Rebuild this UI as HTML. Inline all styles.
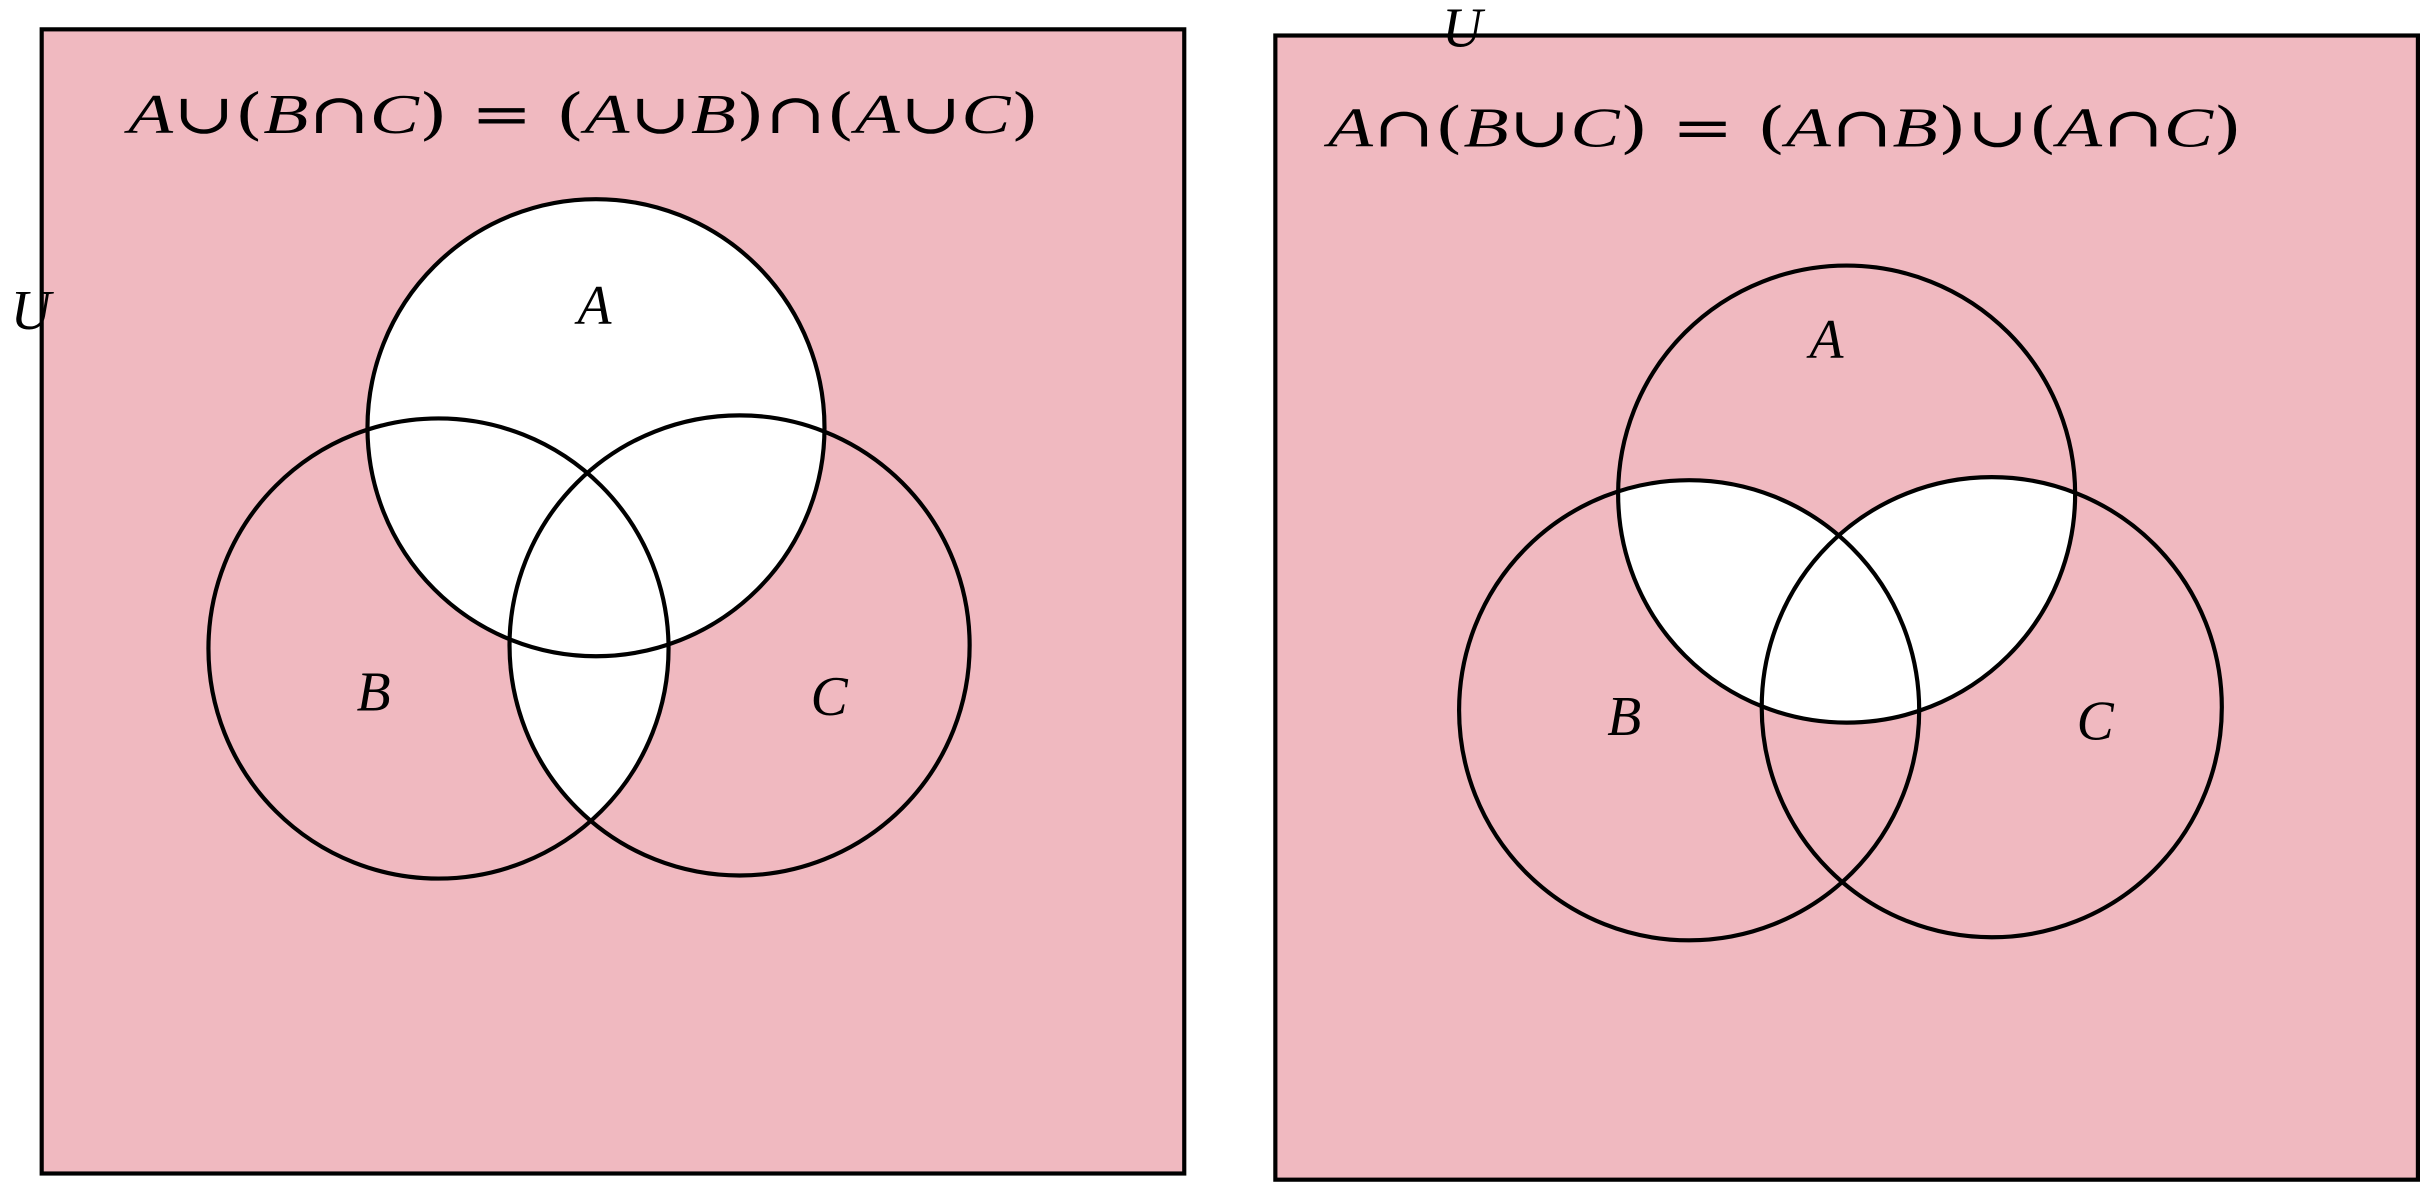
<!DOCTYPE html>
<html><head><meta charset="utf-8"><style>
html,body{margin:0;padding:0;background:#fff;}
svg{display:block}
text{font-family:"Liberation Serif",serif;font-style:italic;fill:#000}
.op{font-family:"DejaVu Serif","Liberation Serif",serif;font-style:normal}
</style></head><body>
<svg width="2421" height="1182" viewBox="0 0 1568 765.5" preserveAspectRatio="none" xmlns="http://www.w3.org/2000/svg">
<defs>
<clipPath id="lA"><circle cx="386" cy="277" r="148"/></clipPath>
<clipPath id="lB"><circle cx="284" cy="420" r="149"/></clipPath>
<clipPath id="rA"><circle cx="1196" cy="320" r="148"/></clipPath>
<clipPath id="rB"><circle cx="1094" cy="460" r="149"/></clipPath>
</defs>
<g>
<rect x="27" y="19" width="740" height="741" fill="#f0b9c0" stroke="#000" stroke-width="2.7"/>
<circle cx="386" cy="277" r="148" fill="#fff"/>
<g clip-path="url(#lB)"><circle cx="479" cy="418" r="149" fill="#fff"/></g>
<circle cx="386" cy="277" r="148" fill="none" stroke="#000" stroke-width="2.7"/>
<circle cx="284" cy="420" r="149" fill="none" stroke="#000" stroke-width="2.7"/>
<circle cx="479" cy="418" r="149" fill="none" stroke="#000" stroke-width="2.7"/>
<text x="83" y="86" font-size="36" textLength="590" lengthAdjust="spacingAndGlyphs">A<tspan class="op">∪(</tspan>B<tspan class="op">∩</tspan>C<tspan class="op">)  =  (</tspan>A<tspan class="op">∪</tspan>B<tspan class="op">)∩(</tspan>A<tspan class="op">∪</tspan>C<tspan class="op">)</tspan></text>
<text x="374" y="210" font-size="36">A</text>
<text x="231" y="460" font-size="36">B</text>
<text x="525" y="463" font-size="36">C</text>
<text x="7" y="213" font-size="36">U</text>
</g>
<g>
<rect x="826" y="23" width="740" height="741" fill="#f0b9c0" stroke="#000" stroke-width="2.7"/>
<g clip-path="url(#rA)">
<circle cx="1094" cy="460" r="149" fill="#fff"/>
<circle cx="1290" cy="458" r="149" fill="#fff"/>
</g>
<circle cx="1196" cy="320" r="148" fill="none" stroke="#000" stroke-width="2.7"/>
<circle cx="1094" cy="460" r="149" fill="none" stroke="#000" stroke-width="2.7"/>
<circle cx="1290" cy="458" r="149" fill="none" stroke="#000" stroke-width="2.7"/>
<text x="860" y="95" font-size="36" textLength="592" lengthAdjust="spacingAndGlyphs">A<tspan class="op">∩(</tspan>B<tspan class="op">∪</tspan>C<tspan class="op">)  =  (</tspan>A<tspan class="op">∩</tspan>B<tspan class="op">)∪(</tspan>A<tspan class="op">∩</tspan>C<tspan class="op">)</tspan></text>
<text x="1172" y="232" font-size="36">A</text>
<text x="1041" y="476" font-size="36">B</text>
<text x="1345" y="479" font-size="36">C</text>
<text x="934" y="30" font-size="36">U</text>
</g>
</svg>
</body></html>
